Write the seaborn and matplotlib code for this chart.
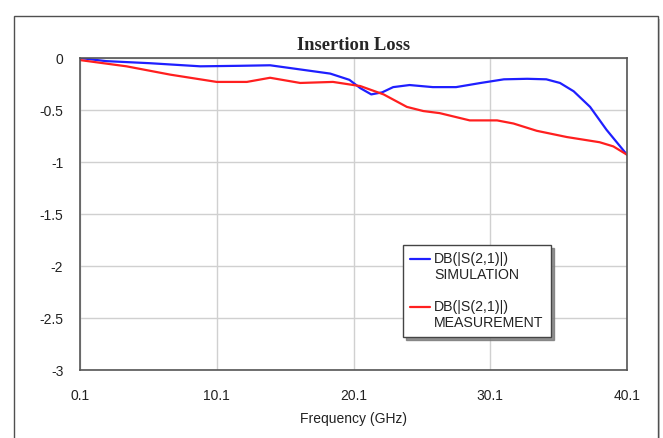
import matplotlib
matplotlib.use("Agg")
import matplotlib.pyplot as plt
import seaborn as sns
import pandas as pd
from matplotlib.patches import Rectangle
from matplotlib.legend_handler import HandlerLine2D

# ---- data ----
sim_freq = [0.1, 2.0, 5.2, 8.9, 11.8, 14.0, 16.2, 18.4, 19.8, 20.6, 21.4, 22.2, 23.0,
            24.2, 25.9, 27.6, 29.4, 31.1, 32.8, 34.2, 35.2, 36.2, 37.4, 38.6, 40.1]
sim_db = [0.0, -0.03, -0.05, -0.08, -0.075, -0.07, -0.11, -0.15, -0.21, -0.29, -0.35, -0.33, -0.28,
          -0.26, -0.28, -0.28, -0.24, -0.205, -0.20, -0.205, -0.24, -0.32, -0.47, -0.69, -0.93]

meas_freq = [0.1, 3.5, 6.7, 10.1, 12.3, 14.0, 16.2, 18.6, 19.6, 20.6, 22.3, 24.0, 25.2,
             26.4, 28.6, 30.6, 31.8, 33.5, 35.7, 38.1, 39.1, 40.1]
meas_db = [-0.02, -0.08, -0.16, -0.23, -0.23, -0.19, -0.24, -0.23, -0.25, -0.27, -0.35, -0.47, -0.51,
           -0.53, -0.60, -0.60, -0.63, -0.70, -0.76, -0.81, -0.85, -0.93]

sim_label = "DB(|S(2,1)|)\nSIMULATION"
meas_label = "DB(|S(2,1)|)\nMEASUREMENT"

x_ticks = [0.1, 10.1, 20.1, 30.1, 40.1]
x_tick_labels = ["0.1", "10.1", "20.1", "30.1", "40.1"]
y_ticks = [0, -0.5, -1, -1.5, -2, -2.5, -3]
y_tick_labels = ["0", "-0.5", "-1", "-1.5", "-2", "-2.5", "-3"]

df = pd.concat([
    pd.DataFrame({"Frequency": sim_freq, "dB": sim_db, "series": sim_label}),
    pd.DataFrame({"Frequency": meas_freq, "dB": meas_db, "series": meas_label}),
], ignore_index=True)

sns.set_style("white")
plt.rcParams["font.family"] = ["Liberation Sans", "DejaVu Sans"]

fig = plt.figure(figsize=(6.63, 4.38), dpi=100)
fig.patch.set_facecolor("white")

# outer frame with shadow
fig.add_artist(Rectangle((17 / 663, -0.05), (660 - 17) / 663, 1.05 - 19 / 438,
                         transform=fig.transFigure, facecolor="#c8c8c8", edgecolor="none", zorder=0))
fig.add_artist(Rectangle((14 / 663, -0.05), (658 - 14) / 663, 1.05 - 16 / 438,
                         transform=fig.transFigure, facecolor="white", edgecolor="#505050",
                         linewidth=1.0, zorder=0.5))

ax = fig.add_axes([80 / 663, 1 - 370 / 438, (627 - 80) / 663, (370 - 58) / 438])
ax.set_facecolor("white")
ax.set_zorder(2)

sns.lineplot(data=df, x="Frequency", y="dB", hue="series",
             palette={sim_label: "#1f1fff", meas_label: "#ff1f1f"},
             linewidth=1.6, ax=ax, sort=False, estimator=None)

ax.set_xlim(0.1, 40.1)
ax.set_ylim(-3, 0)
ax.set_xticks(x_ticks)
ax.set_xticklabels(x_tick_labels, fontsize=10, color="#222222")
ax.set_yticks(y_ticks)
ax.set_yticklabels(y_tick_labels, fontsize=10, color="#222222")
ax.tick_params(axis="both", length=0)
ax.tick_params(axis="x", pad=14)
ax.tick_params(axis="y", pad=12)
ax.grid(True, color="#d0d0d0", linewidth=1.0)
for s in ax.spines.values():
    s.set_color("#555555")
    s.set_linewidth(1.2)

ax.set_xlabel("Frequency (GHz)", fontsize=10, color="#222222", labelpad=6)
ax.set_ylabel("")
ax.set_title("Insertion Loss", fontsize=13.3, fontweight="bold",
             family=["Liberation Serif", "DejaVu Serif"], pad=6)


class TopLineHandler(HandlerLine2D):
    def create_artists(self, legend, orig_handle, xdescent, ydescent, width, height,
                       fontsize, trans):
        artists = super().create_artists(legend, orig_handle, xdescent, ydescent,
                                         width, height, fontsize, trans)
        for a in artists:
            yd = a.get_ydata()
            a.set_ydata([v + fontsize * 0.6 for v in yd])
        return artists


handles, labels = ax.get_legend_handles_labels()
leg = ax.legend(handles, labels, loc="upper left", bbox_to_anchor=(0.5905, 0.4006),
                borderaxespad=0, frameon=True,
                fancybox=False, shadow={"color": "#777777", "alpha": 0.8}, fontsize=10.2,
                handlelength=1.4, handletextpad=0.3, labelspacing=1.3,
                borderpad=0.5, edgecolor="#444444",
                handler_map={h: TopLineHandler() for h in handles})
leg.get_frame().set_linewidth(1.0)
for t in leg.get_texts():
    t.set_color("#222222")
    t.set_linespacing(1.15)
for l in leg.get_lines():
    l.set_linewidth(1.6)

fig.savefig("out.png", dpi=100)
